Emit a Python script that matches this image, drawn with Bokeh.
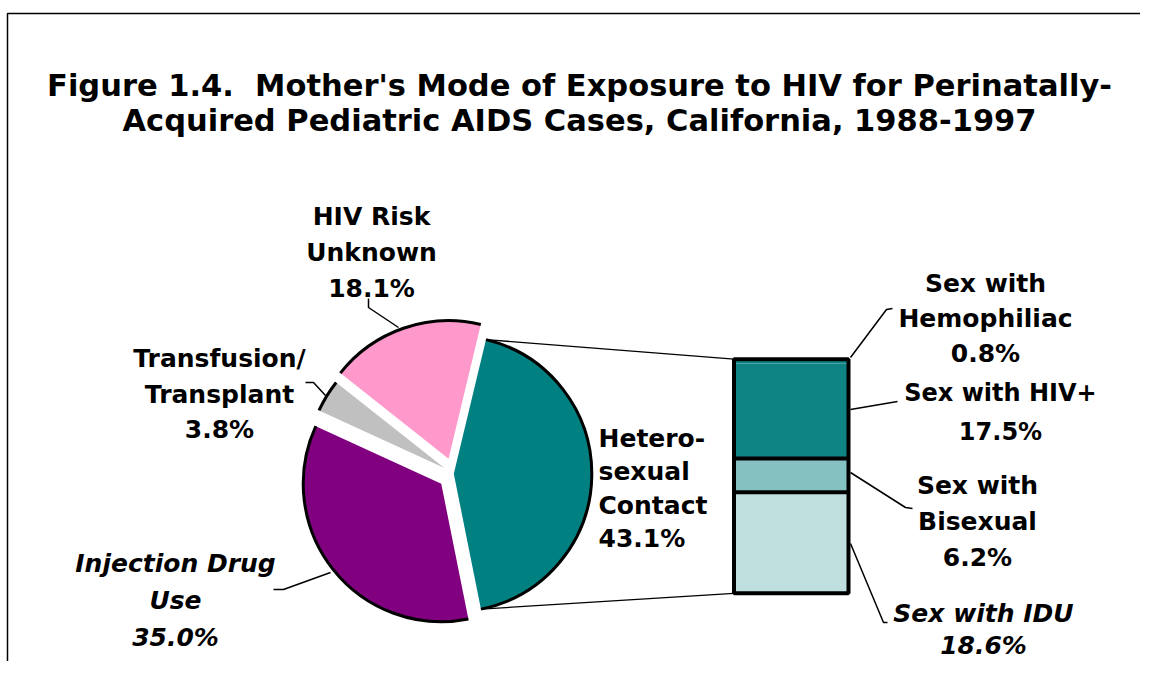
import math
from bokeh.plotting import figure
from bokeh.models import Range1d
from bokeh.core.properties import value
from bokeh.embed import file_html
from bokeh.resources import INLINE

# ---------------- data ----------------
pie_labels = ["Heterosexual Contact", "Injection Drug Use", "Transfusion/Transplant", "HIV Risk Unknown"]
pie_values = [43.1, 35.0, 3.8, 18.1]
pie_colors = ["#008080", "#800080", "#C0C0C0", "#FF99CC"]

bar_labels = ["Sex with Hemophiliac", "Sex with HIV+", "Sex with Bisexual", "Sex with IDU"]
bar_values = [0.8, 17.5, 6.2, 18.6]
bar_colors = ["#0E8383", "#0E8383", "#86C1C1", "#BFDFDF"]

title_lines = ["Figure 1.4.\u00a0\u00a0Mother's Mode of Exposure to HIV for Perinatally-",
               "Acquired Pediatric AIDS Cases, California, 1988-1997"]

# ---------------- layout / styling ----------------
W, H = 1140, 661
PAGE_H = 677


def Y(sy):
    # picture pixel row -> data y (1 data unit == 1 px)
    return PAGE_H - sy


p = figure(width=W, height=H, output_backend="svg", toolbar_location=None,
           x_range=Range1d(0, W), y_range=Range1d(PAGE_H - H, PAGE_H),
           min_border=0, outline_line_color=None, background_fill_color="white")
p.axis.visible = False
p.grid.visible = False

FONT = value("DejaVu Sans")

# frame
p.line([7, 7, 1160], [Y(700), Y(13), Y(13)], line_color="black", line_width=1.5)

# ---------------- pie ----------------
cx, cy = 453.3, Y(473.3)
R = 138
theta0 = 13.5            # first slice starts here, clockwise from 12 o'clock
explode = [0, 16, 11, 16]

starts = []
t = theta0
for v in pie_values:
    starts.append(t)
    t += v * 3.6

xs, ys, sa, ea = [], [], [], []
for i, v in enumerate(pie_values):
    ts = starts[i]
    te = ts + v * 3.6
    tm = (ts + te) / 2
    xs.append(cx + explode[i] * math.sin(math.radians(tm)))
    ys.append(cy + explode[i] * math.cos(math.radians(tm)))
    sa.append(math.radians(90 - ts))
    ea.append(math.radians(90 - te))

p.wedge(x=xs, y=ys, radius=R, start_angle=sa, end_angle=ea, direction="clock",
        fill_color=pie_colors, line_color=None)
p.arc(x=xs, y=ys, radius=R, start_angle=sa, end_angle=ea, direction="clock",
      line_color="black", line_width=3)

# ---------------- bar ----------------
bar_left, bar_right = 733.5, 848
bar_bot, bar_top = Y(592.8), Y(358.7)
total = sum(bar_values)
scale = (bar_top - bar_bot) / total
bottoms, tops = [], []
acc = 0.0
for v in reversed(bar_values):
    bottoms.append(bar_bot + acc * scale)
    acc += v
    tops.append(bar_bot + acc * scale)
bottoms = bottoms[::-1]
tops = tops[::-1]
p.quad(left=[bar_left] * 4, right=[bar_right] * 4, bottom=bottoms, top=tops,
       fill_color=bar_colors, line_color=None)
# dividers between IDU / Bisexual and Bisexual / HIV+
p.segment(x0=[bar_left] * 2, x1=[bar_right] * 2, y0=[tops[3], tops[2]], y1=[tops[3], tops[2]],
          line_color="black", line_width=4)
p.quad(left=[bar_left], right=[bar_right], bottom=[bar_bot], top=[bar_top],
       fill_color=None, line_color="black", line_width=4)

# connectors from the heterosexual slice to the bar
t_s = starts[0]
t_e = starts[0] + pie_values[0] * 3.6
p1 = (xs[0] + R * math.sin(math.radians(t_s)), ys[0] + R * math.cos(math.radians(t_s)))
p2 = (xs[0] + R * math.sin(math.radians(t_e)), ys[0] + R * math.cos(math.radians(t_e)))
p.multi_line(xs=[[p1[0], bar_left], [p2[0], bar_left]],
             ys=[[p1[1], bar_top], [p2[1], bar_bot]],
             line_color="black", line_width=1.3)

# ---------------- leader lines ----------------
leaders = [
    [(368, 298), (368, 307), (398, 327)],
    [(305, 382), (313, 382), (325, 395)],
    [(273, 589), (283, 589), (330, 572)],
    [(850, 357), (886, 309), (892, 308)],
    [(850, 409), (897, 401)],
    [(850, 472), (905, 507), (912, 508)],
    [(850, 543), (883, 622), (887, 622)],
]
p.multi_line(xs=[[a for a, b in L] for L in leaders],
             ys=[[Y(b) for a, b in L] for L in leaders],
             line_color="black", line_width=1.5)

# ---------------- texts ----------------
def add_text(lines, x, y0, dy, size, style="bold", align="center"):
    p.text(x=[x] * len(lines), y=[Y(y0 + k * dy) for k in range(len(lines))], text=lines,
           text_font=FONT, text_font_style=style, text_font_size=size,
           text_align=align, text_baseline="alphabetic", text_color="black")


add_text(title_lines, 579, 85, 35, "30.5px")

LS = "25px"
add_text(["HIV Risk", "Unknown", "18.1%"], 371, 216, 36, LS)
add_text(["Transfusion/", "Transplant", "3.8%"], 219, 358, 35.5, LS)
add_text(["Hetero-", "sexual", "Contact", "43.1%"], 598, 438, 33.3, LS, align="left")
add_text(["Injection Drug", "Use", "35.0%"], 175, 563, 37, LS, style="bold italic")

add_text(["Sex with", "Hemophiliac", "0.8%"], 985, 283, 35, LS)
add_text(["Sex with HIV+", "17.5%"], 1000, 392, 39.5, "24px")
add_text(["Sex with", "Bisexual", "6.2%"], 977, 485, 36, LS)
add_text(["Sex with IDU", "18.6%"], 983, 613, 32, LS, style="bold italic")

open("out.html", "w").write(file_html(p, INLINE))
